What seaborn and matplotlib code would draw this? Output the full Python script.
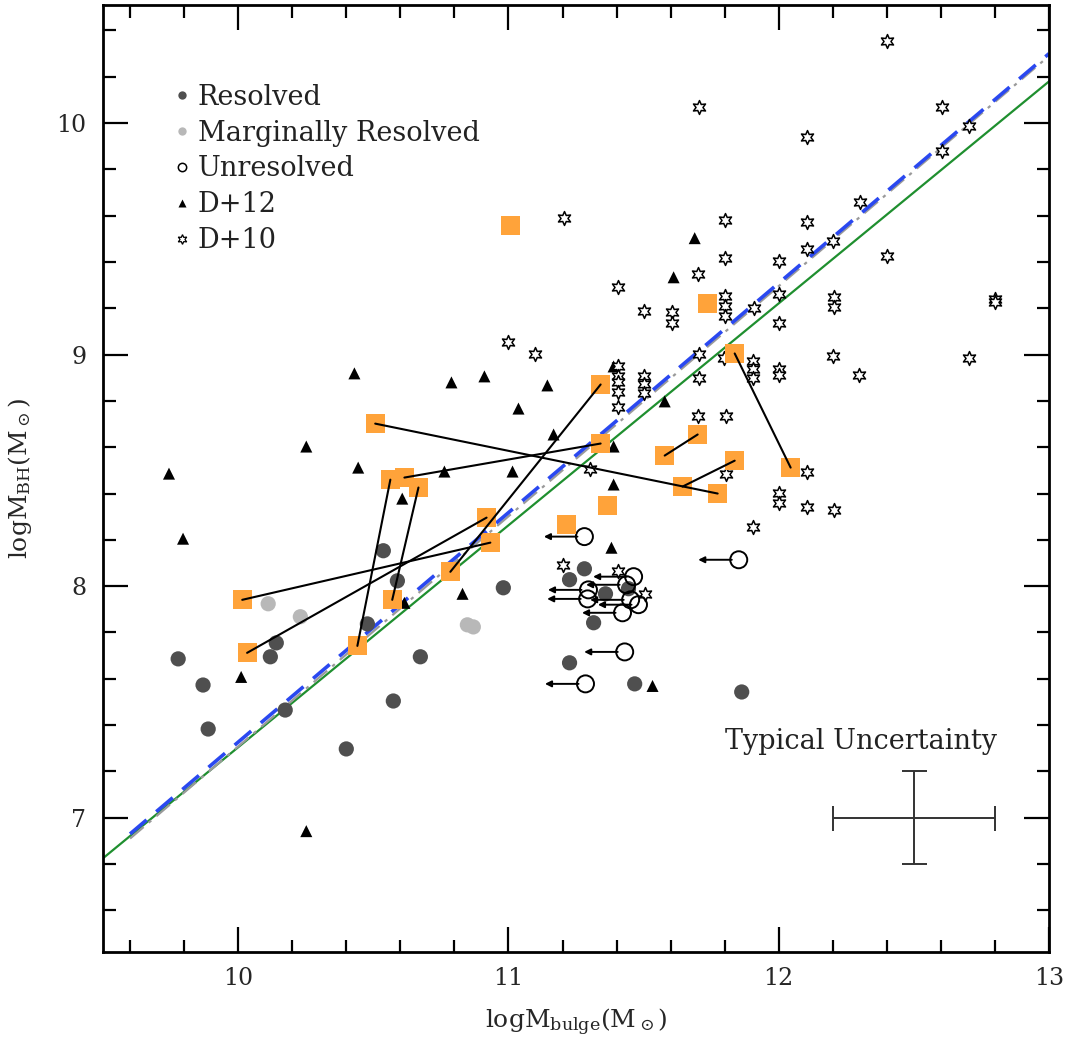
import matplotlib
matplotlib.use("Agg")
import matplotlib.pyplot as plt
import numpy as np
import pandas as pd
import seaborn as sns
from matplotlib.lines import Line2D

# ---------------- data ----------------
# Resolved bulges (filled dark circles)
res_x = [10.537, 10.589, 10.478, 10.141, 10.119, 9.778, 9.870, 9.889, 10.174,
         10.400, 10.574, 10.674, 10.981, 11.281, 11.226, 11.359, 11.444, 11.315,
         11.226, 11.467, 11.863]
res_y = [8.153, 8.023, 7.837, 7.755, 7.695, 7.686, 7.573, 7.383, 7.465,
         7.297, 7.504, 7.695, 7.993, 8.075, 8.028, 7.967, 7.989, 7.842,
         7.669, 7.578, 7.543]

# Marginally resolved (filled light circles)
mar_x = [10.111, 10.230, 10.848, 10.870]
mar_y = [7.924, 7.868, 7.833, 7.824]

# Unresolved (open circles, upper limits in bulge mass)
unr_x = [11.281, 11.852, 11.463, 11.437, 11.296, 11.293, 11.452, 11.481, 11.422,
         11.430, 11.285]
unr_y = [8.214, 8.114, 8.041, 8.006, 7.984, 7.945, 7.941, 7.920, 7.885,
         7.716, 7.578]
limit_dx = 0.15

# D+12 sample (filled triangles)
d12_x = [9.744, 9.796, 10.252, 10.430, 10.444, 10.789, 10.911, 11.037, 11.144,
         11.167, 11.015, 10.763, 10.607, 10.011, 10.252, 10.830, 10.615, 11.389,
         11.389, 11.389, 11.578, 11.381, 11.689, 11.611, 11.533]
d12_y = [8.486, 8.205, 8.603, 8.919, 8.512, 8.880, 8.906, 8.767, 8.867,
         8.655, 8.495, 8.495, 8.378, 7.608, 6.942, 7.967, 7.928, 8.949,
         8.603, 8.439, 8.798, 8.166, 9.503, 9.334, 7.569]

# D+10 sample (open stars)
d10_x = [12.400, 11.704, 12.104, 12.604, 12.704, 12.604, 11.204, 11.800, 12.104,
         12.300, 12.200, 12.104, 12.400, 11.800, 12.000, 11.700, 11.404, 11.500,
         11.604, 11.604, 11.800, 11.800, 11.800, 11.907, 12.000, 12.000, 12.204,
         12.204, 12.800, 12.800, 11.000, 11.100, 12.200, 12.704, 12.296, 11.404,
         11.404, 11.404, 11.404, 11.404, 11.500, 11.500, 11.500, 11.704, 11.704,
         11.796, 11.904, 11.904, 11.904, 12.000, 12.000, 11.700, 11.804, 11.300,
         11.804, 12.104, 12.000, 12.000, 12.104, 12.204, 11.904, 11.200, 11.404,
         11.504]
d10_y = [10.355, 10.069, 9.939, 10.069, 9.987, 9.879, 9.589, 9.580, 9.572,
         9.658, 9.490, 9.455, 9.425, 9.416, 9.403, 9.347, 9.291, 9.187,
         9.183, 9.135, 9.252, 9.208, 9.165, 9.200, 9.260, 9.135, 9.247,
         9.204, 9.239, 9.226, 9.053, 9.001, 8.992, 8.984, 8.914, 8.949,
         8.906, 8.880, 8.837, 8.772, 8.906, 8.871, 8.836, 9.001, 8.901,
         8.984, 8.971, 8.936, 8.901, 8.936, 8.914, 8.733, 8.733, 8.508,
         8.486, 8.491, 8.404, 8.361, 8.343, 8.330, 8.257, 8.093, 8.067,
         7.967]

# This work (orange squares)
new_x = [11.007, 11.737, 11.837, 11.341, 10.507, 11.341, 11.700, 11.578, 10.563,
         10.615, 10.667, 11.644, 11.774, 11.837, 12.044, 11.367, 11.215, 10.919,
         10.933, 10.785, 10.570, 10.015, 10.033, 10.441]
new_y = [9.559, 9.221, 9.005, 8.871, 8.702, 8.616, 8.655, 8.564, 8.460,
         8.469, 8.426, 8.430, 8.400, 8.542, 8.512, 8.348, 8.266, 8.296,
         8.188, 8.062, 7.941, 7.941, 7.712, 7.742]
# index pairs of squares joined by a line (same object, two estimates)
new_links = [(4, 12), (9, 5), (8, 23), (10, 20), (21, 18), (22, 17), (19, 3),
             (11, 13), (7, 6), (2, 14)]

# Relations
green_x = [9.5, 13.0]
green_y = [6.825, 10.18]
blue_x = [9.6, 13.0]
blue_y = [6.93, 10.30]
gray_x = [9.6, 13.0]
gray_y = [6.91, 10.29]

# Typical uncertainty
unc_x, unc_y = 12.5, 7.0
unc_dx, unc_dy = 0.3, 0.2

# ---------------- style ----------------
sns.set_theme(style="ticks")
plt.rcParams["font.family"] = ["DejaVu Serif"]
plt.rcParams["mathtext.fontset"] = "dejavuserif"

fig = plt.figure(figsize=(10.7, 10.41), dpi=100)
ax = fig.add_axes([0.0963, 0.0855, 0.8841, 0.9097])

ORANGE = "#ffa33a"
TEXT_SIZE = 19.5

# relations
ax.plot(green_x, green_y, color="#1f8f2f", lw=1.6, zorder=2)
ax.plot(gray_x, gray_y, color="#9a9a9a", lw=1.6, ls=(0, (8, 3, 1.5, 3)), zorder=2)
ax.plot(blue_x, blue_y, color="#2a48f0", lw=2.6, ls=(0, (6, 3.5)), zorder=2)

# data sets
sns.scatterplot(x=res_x, y=res_y, ax=ax, color="#4f4f4f", s=120,
                edgecolor="none", zorder=3)
sns.scatterplot(x=mar_x, y=mar_y, ax=ax, color="#b8b8b8", s=120,
                edgecolor="none", zorder=3)
sns.scatterplot(x=d12_x, y=d12_y, ax=ax, color="black", marker="^", s=75,
                edgecolor="none", zorder=3)
sns.scatterplot(x=d10_x, y=d10_y, ax=ax, marker=(6, 1, 0), s=100,
                facecolor="white", edgecolor="black", linewidth=1.1, zorder=3)
sns.scatterplot(x=unr_x, y=unr_y, ax=ax, marker="o", s=150,
                facecolor="none", edgecolor="black", linewidth=1.4, zorder=4)
for x0, y0 in zip(unr_x, unr_y):
    ax.annotate("", xy=(x0 - limit_dx, y0), xytext=(x0, y0),
                arrowprops=dict(arrowstyle="-|>", color="black", lw=1.4,
                                shrinkA=5, shrinkB=0, mutation_scale=9),
                zorder=4)

sns.scatterplot(x=new_x, y=new_y, ax=ax, color=ORANGE, marker="s", s=190,
                edgecolor="none", zorder=5)
for i, j in new_links:
    ax.plot([new_x[i], new_x[j]], [new_y[i], new_y[j]], color="black",
            lw=1.5, zorder=6)

# typical uncertainty
ax.errorbar(unc_x, unc_y, xerr=unc_dx, yerr=unc_dy, fmt="none",
            ecolor="#333333", elinewidth=1.4, capsize=9, capthick=1.4, zorder=3)
ax.text(11.80, 7.33, "Typical Uncertainty", fontsize=TEXT_SIZE, va="center",
        ha="left", color="#222222")

# legend
handles = [
    Line2D([], [], ls="none", marker="o", ms=6, color="#4f4f4f", mec="none"),
    Line2D([], [], ls="none", marker="o", ms=6, color="#b8b8b8", mec="none"),
    Line2D([], [], ls="none", marker="o", ms=6, mfc="none", mec="black", mew=1.1),
    Line2D([], [], ls="none", marker="^", ms=6, color="black", mec="none"),
    Line2D([], [], ls="none", marker=(6, 1, 0), ms=7, mfc="white", mec="black",
           mew=0.9),
]
labels = ["Resolved", "Marginally Resolved", "Unresolved", "D+12", "D+10"]
leg = ax.legend(handles, labels, loc="upper left", bbox_to_anchor=(0.077, 0.917),
                frameon=False, fontsize=TEXT_SIZE, handlelength=0.45,
                handletextpad=0.35, labelspacing=0.33, borderpad=0,
                borderaxespad=0)
for t in leg.get_texts():
    t.set_color("#222222")

# axes
ax.set_xlim(9.5, 13.0)
ax.set_ylim(6.42, 10.51)
ax.set_xticks([10, 11, 12, 13])
ax.set_xticks(np.arange(9.6, 13.0, 0.2), minor=True)
ax.set_yticks([7, 8, 9, 10])
ax.set_yticks(np.arange(6.6, 10.5, 0.2), minor=True)
ax.tick_params(which="both", direction="in", top=True, right=True,
               width=1.6, color="black")
ax.tick_params(which="major", length=18, labelsize=17, pad=12)
ax.tick_params(which="minor", length=9)
ax.tick_params(axis="x", which="major", pad=11)
for sp in ax.spines.values():
    sp.set_linewidth(2.0)
    sp.set_color("black")

ax.set_xlabel(r"logM$_{\rm bulge}$(M$_\odot$)", fontsize=18, labelpad=12)
ax.set_ylabel(r"logM$_{\rm BH}$(M$_\odot$)", fontsize=18, labelpad=16)

fig.savefig("out.png", dpi=100, facecolor="white")
